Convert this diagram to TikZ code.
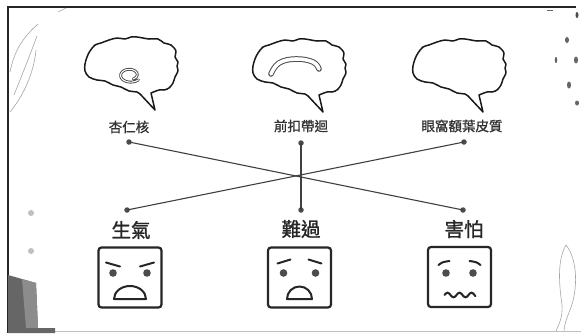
\documentclass[tikz,border=0pt]{standalone}
\usepackage{fontspec}
\newfontfamily\cjk[FakeBold=1.2]{Noto Sans CJK TC}
\begin{document}
\begin{tikzpicture}[x=1pt,y=-1pt,
  frameline/.style={draw=black!85, line width=1.8pt},
  brainline/.style={draw=black!90, line width=1.5pt, line join=round},
  link/.style={draw=black!75, line width=1.1pt},
  dot/.style={circle, fill=black!70, inner sep=0pt, minimum size=5.5pt},
  toplabel/.style={font=\cjk\fontsize{13.5}{14}\selectfont, text=black!80, inner sep=0pt},
  emolabel/.style={font=\cjk\fontsize{19.5}{20}\selectfont, text=black!85, inner sep=0pt},
  facebox/.style={draw=black!85, line width=2.2pt, rounded corners=3pt, minimum width=63pt, minimum height=60pt, inner sep=0pt},
  feature/.style={draw=black!85, line width=2pt, line cap=round, line join=round},
  eye/.style={fill=black!70},
  decoline/.style={draw=black!35, line width=0.6pt},
  brain/.pic={
    \draw[brainline] plot[smooth, tension=0.55] coordinates {
      (20,26) (28,23) (33,23) (38,21) (42,16) (44,10) (47,4) (46,-1) (47,-5) (44,-10) (45,-16)
      (40,-22) (33,-24) (27,-28) (18,-28) (12,-29) (6,-30) (0,-30) (-6,-28) (-14,-29)
      (-22,-27) (-30,-24) (-36,-22) (-41,-16) (-44,-10) (-46,-3) (-46,4) (-42,10)
      (-34,13) (-26,14) (-18,18) (-10,20) (-2,24) (6,25) (10,28)}
      -- (24,43) -- cycle;
  }]

% canvas
\useasboundingbox (0,0) rectangle (581,333);
\fill[white] (0,0) rectangle (581,333);

% frame edges
\draw[frameline] (7,7) -- (576,7);
\draw[frameline] (8,7) -- (8,333);
\draw[draw=black!25, line width=0.8pt] (55,331) -- (581,331);

% corner decorations
\draw[decoline] (38,24) .. controls (22,38) and (14,52) .. (10,72);
\draw[decoline] (37,36) .. controls (30,55) and (22,75) .. (14,95);
\draw[decoline] (36,50) .. controls (34,72) and (24,95) .. (10,112);
\draw[decoline] (58,12) -- (66,8);
\fill[black!25] (31,213) circle (3);
\fill[black!25] (31,251) circle (3);
\fill[black!60] (8,275) -- (36,283) -- (38,328) -- (55,328) -- (55,333) -- (8,333) -- cycle;
\fill[black!45] (22,279) -- (36,283) -- (38,328) -- (26,328) -- cycle;
\fill[black!70] (577,15) ellipse (1.5 and 3);
\fill[black!60] (567,40) ellipse (2 and 3);
\fill[black!60] (556,60) ellipse (1.3 and 3);
\fill[black!60] (576,60) ellipse (2 and 3.5);
\fill[black!60] (569,85) ellipse (2 and 3.5);
\fill[black!60] (577,103) ellipse (2 and 2.5);
\draw[black!60, line width=0.8pt] (547,10) -- (553,10);
\draw[decoline] (566,245) .. controls (556,262) and (560,290) .. (562,305)
  .. controls (563,318) and (558,326) .. (556,331);
\draw[decoline] (566,245) .. controls (578,260) and (578,290) .. (570,310)
  .. controls (566,320) and (564,326) .. (564,331);

% brains
\pic at (131,67) {brain};
\pic at (299,69) {brain};
\pic at (459,69) {brain};

% amygdala curl
\begin{scope}[shift={(131,67)}]
  \draw[black!75, line width=2.8pt, line cap=round]
    plot[smooth, domain=40:420, samples=60]
    ({-1+(11-0.012*(\x-40))*cos(\x)}, {8+(7.5-0.008*(\x-40))*sin(\x)});
  \draw[white, line width=1.1pt, line cap=round]
    plot[smooth, domain=40:420, samples=60]
    ({-1+(11-0.012*(\x-40))*cos(\x)}, {8+(7.5-0.008*(\x-40))*sin(\x)});
\end{scope}

% cingulate arch
\begin{scope}[shift={(299,69)}]
  \draw[black!70, line width=5.6pt, line cap=round]
    plot[smooth, tension=0.7] coordinates {(-28,5) (-20,-6) (-3,-10) (14,-7) (20,0)};
  \draw[white, line width=3.6pt, line cap=round]
    plot[smooth, tension=0.7] coordinates {(-28,5) (-20,-6) (-3,-10) (14,-7) (20,0)};
\end{scope}

% region labels
\node[toplabel] (amy) at (129,127) {杏仁核};
\node[toplabel] (acc) at (301,126) {前扣帶迴};
\node[toplabel] (ofc) at (462,126) {眼窩額葉皮質};

% connection points
\node[dot] (d1) at (129,142) {};
\node[dot] (d2) at (301,143) {};
\node[dot] (d3) at (464,142) {};
\node[dot] (e1) at (127,210) {};
\node[dot] (e2) at (301,210) {};
\node[dot] (e3) at (463,210) {};

\draw[link] (d1.center) -- (e3.center);
\draw[link] (d3.center) -- (e1.center);
\draw[link] (d2.center) -- (e2.center);

% emotion labels
\node[emolabel] (ang) at (131,230) {生氣};
\node[emolabel] (sad) at (301,229) {難過};
\node[emolabel] (fea) at (464,229) {害怕};

% faces
\node[facebox] (f1) at (130,277.5) {};
\node[facebox] (f2) at (299.5,277.5) {};
\node[facebox] (f3) at (459.5,277) {};

% angry
\begin{scope}[shift={(f1.center)}]
  \draw[feature] (-24,-15) -- (-10,-11);
  \draw[feature] (10,-11) -- (24,-15);
  \fill[eye] (-17,-4.5) circle (3.8);
  \fill[eye] (17,-4.5) circle (3.8);
  \draw[feature] (-16,21.5) arc[start angle=180, end angle=360, x radius=16, y radius=13] -- cycle;
\end{scope}

% sad
\begin{scope}[shift={(f2.center)}]
  \draw[feature] (-22,-14) -- (-9,-18);
  \draw[feature] (9,-18) -- (22,-14);
  \fill[eye] (-16,-4.5) circle (3.8);
  \fill[eye] (16,-4.5) circle (3.8);
  \draw[feature] (-12.5,21.5) arc[start angle=180, end angle=360, x radius=12.5, y radius=12.5] -- cycle;
\end{scope}

% scared
\begin{scope}[shift={(f3.center)}]
  \draw[feature] (-21,-12) .. controls (-17,-15) .. (-10,-16);
  \draw[feature] (10,-16) .. controls (17,-15) .. (21,-12);
  \fill[eye] (-13.5,-4) circle (3.8);
  \fill[eye] (13.5,-4) circle (3.8);
  \draw[feature] plot[smooth, domain=-15:16, samples=60] (\x, {18-2.3*sin((\x+15)*360/12)});
\end{scope}

\end{tikzpicture}
\end{document}
